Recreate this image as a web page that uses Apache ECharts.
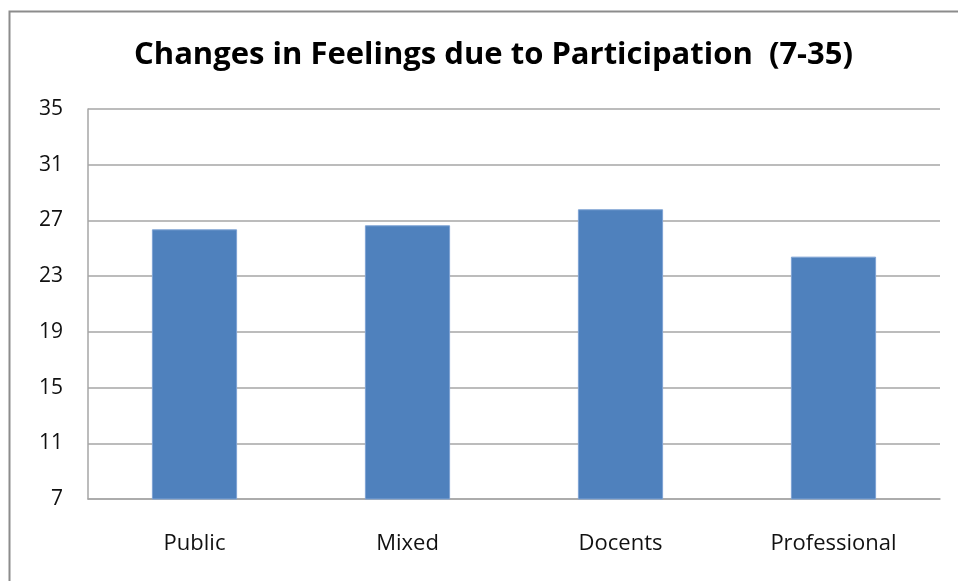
<!DOCTYPE html>
<html><head><meta charset="utf-8">
<style>html,body{margin:0;padding:0;background:#fff}#c{width:958px;height:581px}</style>
<script src="https://cdn.jsdelivr.net/npm/echarts@6/dist/echarts.min.js"></script>
</head><body><div id="c"></div>
<script>
const categories = ['Public', 'Mixed', 'Docents', 'Professional'];
const values = [26.36, 26.65, 27.8, 24.4];
const titleText = 'Changes in Feelings due to Participation  (7-35)';

const chart = echarts.init(document.getElementById('c'), null, {renderer: 'canvas'});
chart.setOption({
  animation: false,
  backgroundColor: '#fff',
  graphic: [{
    type: 'rect', left: 7, top: 9, shape: {x: 0, y: 0, width: 1100, height: 1100},
    style: {fill: 'none', stroke: '#8c8c8c', lineWidth: 2}, silent: true, z: -1
  }],
  title: {
    text: titleText, left: 129, top: 35,
    textStyle: {fontFamily: 'Open Sans', fontWeight: 'bold', fontSize: 31, color: '#000'}
  },
  grid: {left: 88, right: 18, top: 109, bottom: 82},
  xAxis: {
    type: 'category', data: categories,
    axisLine: {lineStyle: {color: '#a6a6a6', width: 1.5}},
    axisTick: {show: false},
    axisLabel: {fontFamily: 'Open Sans', fontSize: 22, color: '#111', margin: 34}
  },
  yAxis: {
    type: 'value', min: 7, max: 35, interval: 4,
    axisLine: {show: true, lineStyle: {color: '#a6a6a6', width: 1.5}},
    axisTick: {show: false},
    splitLine: {lineStyle: {color: '#a6a6a6', width: 1.5}},
    axisLabel: {fontFamily: 'Open Sans', fontSize: 21, color: '#111', margin: 25}
  },
  series: [{
    type: 'bar', data: values, barWidth: '40%',
    itemStyle: {color: '#4f81bd', borderColor: '#7ea3d4', borderWidth: 1}
  }]
});
</script></body></html>
